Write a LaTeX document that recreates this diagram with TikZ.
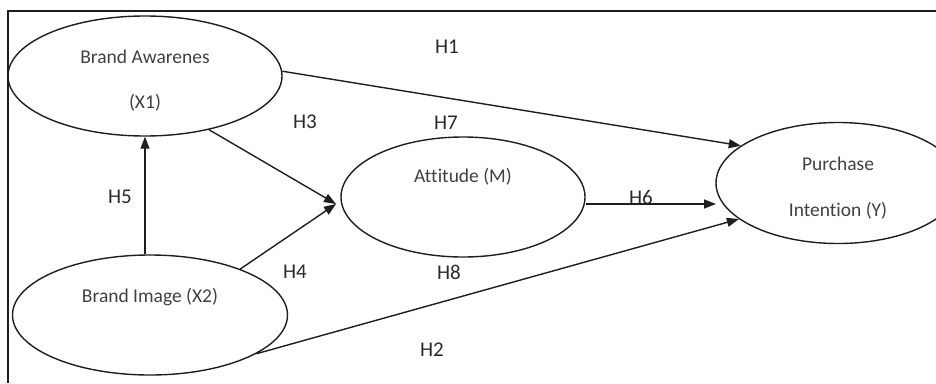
\documentclass[tikz,border=0pt]{standalone}
\usepackage{fontspec}
\setmainfont{Carlito}[Ligatures={CommonOff,NoCommon}]
\usetikzlibrary{shapes.geometric,arrows.meta}
\definecolor{linec}{HTML}{1E1E1E}
\definecolor{txtc}{HTML}{404040}
\definecolor{hc}{HTML}{2A2A2A}
\begin{document}
\begin{tikzpicture}[x=1pt,y=1pt,
  var/.style={draw=linec, line width=1.4pt, ellipse, inner sep=0pt},
  lbl/.style={text=txtc, font=\fontsize{19.5}{22}\selectfont, inner sep=0pt},
  hyp/.style={text=hc, font=\fontsize{21}{24}\selectfont, inner sep=0pt},
  arr/.style={draw=linec, line width=1.4pt, -{Triangle[length=12pt,width=9pt]}},
  frame/.style={draw=linec, line width=1.2pt}]
\useasboundingbox (0,0) rectangle (936,-383);
\clip (0,0) rectangle (936,-383);
\draw[frame] (936,-11) -- (8,-11) -- (8,-383);
% variables
\node[var, minimum width=274, minimum height=120] (x1) at (145,-76) {};
\node[var, minimum width=275, minimum height=120] (x2) at (150,-315) {};
\node[var, minimum width=244, minimum height=120] (att) at (463,-197) {};
\node[var, minimum width=244, minimum height=121] (py) at (838,-183) {};
% labels
\node[lbl] (t1a) at (145,-57) {Brand Awarenes};
\node[lbl] (t1b) at (145,-103) {(X1)};
\node[lbl] (t2) at (150,-297) {Brand Image (X2)};
\node[lbl] (tm) at (463,-177) {Attitude (M)};
\node[lbl] (ty1) at (838,-164) {Purchase};
\node[lbl] (ty2) at (838,-211) {Intention (Y)};
% hypotheses
\node[hyp] (h1) at (447,-47) {H1};
\node[hyp] (h3) at (305,-122) {H3};
\node[hyp] (h7) at (446,-123) {H7};
\node[hyp] (h5) at (120,-197) {H5};
\node[hyp] (h4) at (295,-272) {H4};
\node[hyp] (h8) at (449,-272) {H8};
\node[hyp] (h6) at (641,-197) {H6};
\node[hyp] (h2) at (432,-350) {H2};
% connectors
\coordinate (m) at (336,-204);
\coordinate (h6e) at (716,-204);
\draw[arr] (x1.2) -- (py.159);
\draw[arr] (x1.-40) -- (m);
\draw[arr] (x2.27) -- (m);
\draw[arr] (x1.south |- x2.north) -- (x1.south);
\draw[arr] (att.east |- h6e) -- (h6e);
\draw[arr] (x2.-20) -- (py.200);
\end{tikzpicture}
\end{document}
